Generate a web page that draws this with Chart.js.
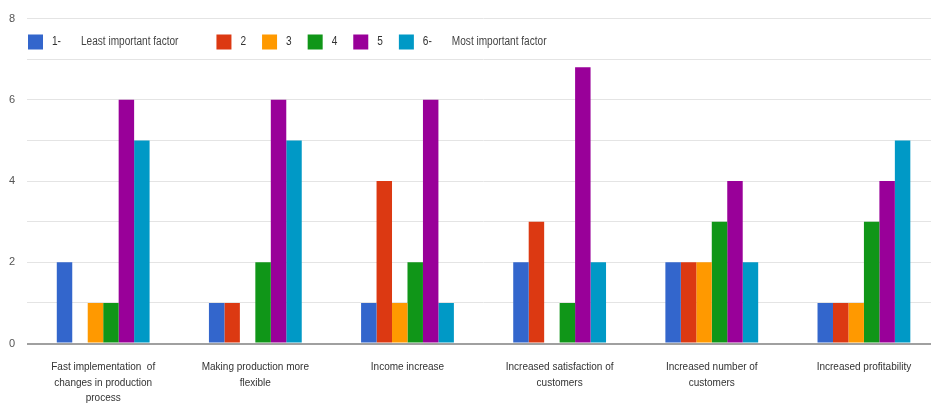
<!DOCTYPE html>
<html><head><meta charset="utf-8">
<script src="https://cdn.jsdelivr.net/npm/chart.js@4/dist/chart.umd.min.js"></script>
<style>html,body{margin:0;padding:0;background:#fff;overflow:hidden}
#wrap{position:relative;width:942px;height:411px}</style>
</head><body><div id="wrap"><canvas id="c"></canvas></div>
<script>
const categories = [
  ["Fast implementation  of", "changes in production", "process"],
  ["Making production more", "flexible"],
  "Income increase",
  ["Increased satisfaction of", "customers"],
  ["Increased number of", "customers"],
  "Increased profitability"
];
const seriesNames = ["1-", "2", "3", "4", "5", "6-"];
const seriesNotes = ["Least important factor", "", "", "", "", "Most important factor"];
const rank1 = [2, 1, 1, 2, 2, 1];
const rank2 = [0, 1, 4, 3, 2, 1];
const rank3 = [1, 0, 1, 0, 2, 1];
const rank4 = [1, 2, 2, 1, 3, 3];
const rank5 = [6, 6, 6, 6.8, 4, 4];
const rank6 = [5, 5, 1, 2, 2, 5];
const yTickLabels = [0, 2, 4, 6, 8];
const colors = ['#3366cc', '#dc3912', '#ff9900', '#109618', '#990099', '#0099c6'];

const FONT = "'Liberation Sans', Arial, sans-serif";
const series = [rank1, rank2, rank3, rank4, rank5, rank6];

const legendPlugin = {
  id: 'inAreaLegend',
  afterDraw(chart) {
    const ctx = chart.ctx;
    const sx = 0.84;
    ctx.save();
    ctx.font = "12px " + FONT;
    ctx.textBaseline = 'middle';
    let x = 28;
    const yc = 42;
    const text = (t, px, color) => {
      ctx.save();
      ctx.translate(px, yc);
      ctx.scale(sx, 1);
      ctx.fillStyle = color;
      ctx.fillText(t, 0, 0);
      ctx.restore();
      return px + ctx.measureText(t).width * sx;
    };
    chart.data.datasets.forEach((ds, i) => {
      ctx.fillStyle = ds.backgroundColor;
      ctx.fillRect(x, yc - 7.5, 15, 15);
      let end = text(ds.label, x + 24, '#333');
      const note = seriesNotes[i];
      if (note) {
        end = text(note, end + 20, '#444');
        x = end + 38;
      } else {
        x = end + 16;
      }
    });
    ctx.restore();
  }
};

new Chart(document.getElementById('c'), {
  type: 'bar',
  data: {
    labels: categories,
    datasets: series.map((d, i) => ({
      label: seriesNames[i],
      data: d,
      backgroundColor: colors[i],
      borderWidth: 0,
      categoryPercentage: 0.61,
      barPercentage: 1.0
    }))
  },
  options: {
    responsive: true,
    maintainAspectRatio: false,
    animation: false,
    layout: { padding: { top: 10, bottom: -11, left: -3, right: 2 } },
    plugins: {
      legend: { display: false },
      tooltip: { enabled: false }
    },
    scales: {
      x: {
        grid: { display: false, drawTicks: false },
        border: { display: false },
        ticks: {
          autoSkip: false, maxRotation: 0, minRotation: 0,
          padding: 16,
          color: '#333',
          font: { family: FONT, size: 10, lineHeight: 1.55 }
        }
      },
      y: {
        min: 0, max: 8,
        grid: {
          drawTicks: false,
          color: c => c.tick && c.tick.value === 0 ? '#a0a0a0' : '#e4e4e4',
          lineWidth: c => c.tick && c.tick.value === 0 ? 2 : 1
        },
        border: { display: false },
        ticks: {
          stepSize: 1,
          padding: 12,
          color: '#555',
          font: { family: FONT, size: 11 },
          callback: v => yTickLabels.includes(v) ? String(v) : ''
        }
      }
    }
  },
  plugins: [legendPlugin]
});
</script>
</body></html>
